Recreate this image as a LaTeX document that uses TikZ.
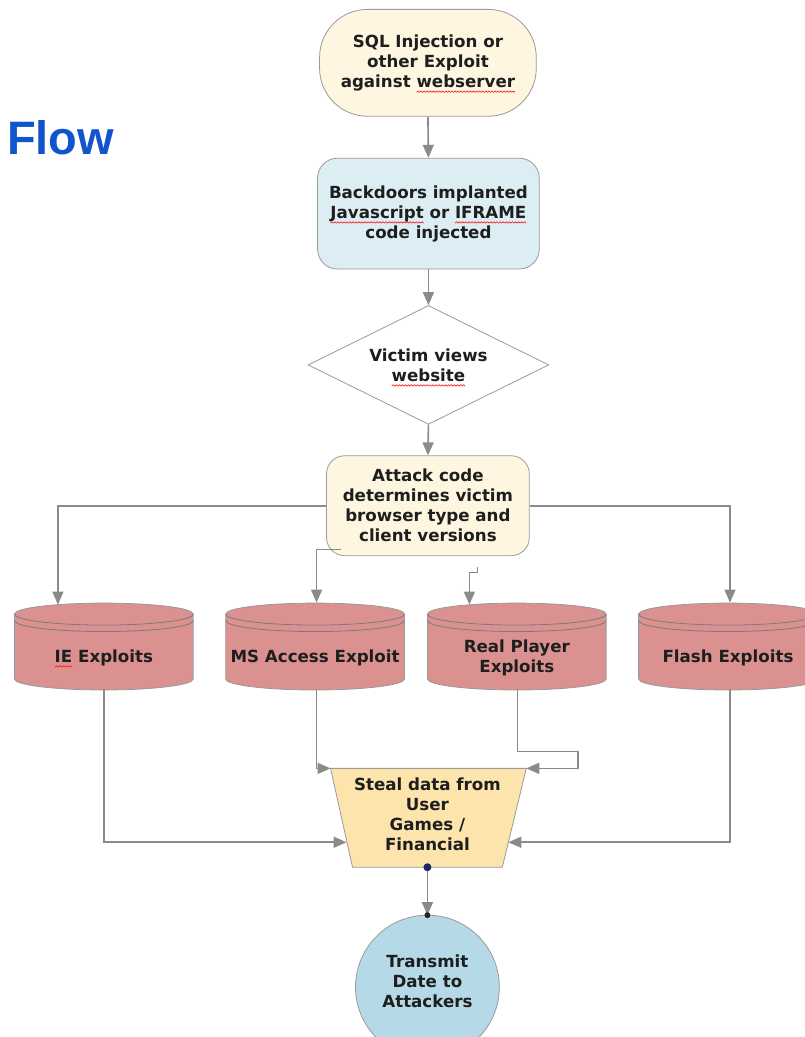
\documentclass[tikz,border=0pt]{standalone}
\usepackage{fontspec}
\setmainfont{DejaVu Sans}
\newfontfamily\flowfont{Liberation Sans}
\usetikzlibrary{shapes.geometric,arrows.meta}
\definecolor{txtc}{HTML}{1E1E1E}
\definecolor{bordc}{HTML}{9A9A9A}
\definecolor{linec}{HTML}{8A8A8A}
\definecolor{creamc}{HTML}{FEF6E0}
\definecolor{bluebox}{HTML}{DCEEF3}
\definecolor{cylc}{HTML}{DA9190}
\definecolor{trapc}{HTML}{FCE4AC}
\definecolor{circc}{HTML}{B5D9E6}
\definecolor{flowc}{HTML}{1155CC}
\definecolor{dotc}{HTML}{1A2A5A}
\newsavebox\waveunit
\newcommand\sqw[1]{\leavevmode\setbox0\hbox{#1}\rlap{\raisebox{-5pt}[0pt][0pt]{\hbox to \wd0{\xleaders\copy\waveunit\hfill}}}\box0\relax}
\begin{document}
\begin{tikzpicture}[x=1pt,y=1pt,
  lbl/.style={font=\bfseries\fontsize{16.7}{20}\selectfont, text=txtc, align=center, inner sep=0pt},
  termbox/.style={lbl, draw=bordc, line width=0.8pt, fill=creamc, rounded corners=48pt, minimum width=217pt, minimum height=107pt},
  procbox/.style={lbl, draw=bordc, line width=0.8pt, rounded corners=20pt},
  decbox/.style={lbl, diamond, aspect=2, draw=bordc, line width=0.8pt, fill=white, minimum width=241pt, minimum height=119pt},
  endcirc/.style={circle, draw=bordc, line width=0.8pt, fill=circc, minimum size=144pt, inner sep=0pt},
  conn/.style={draw=linec, line width=1.6pt, -{Triangle[length=13pt,width=11pt]}},
  cyl/.pic={
    \fill[cylc] (-89.5,32) arc[start angle=180,end angle=0,x radius=89.5,y radius=11] -- (89.5,-33) arc[start angle=0,end angle=-180,x radius=89.5,y radius=11] -- cycle;
    \draw[bordc,line width=0.8pt] (-89.5,32) arc[start angle=180,end angle=0,x radius=89.5,y radius=11] -- (89.5,-33) arc[start angle=0,end angle=-180,x radius=89.5,y radius=11] -- cycle;
    \draw[bordc!80!black,line width=0.8pt] (-89.5,32) arc[start angle=180,end angle=360,x radius=89.5,y radius=11];
    \draw[bordc!80!black,line width=0.8pt] (-89.5,25.5) arc[start angle=180,end angle=360,x radius=89.5,y radius=11];
  }]
\global\sbox\waveunit{\tikz{\useasboundingbox (0pt,0pt) rectangle (3pt,1.4pt); \draw[red,line width=0.55pt] (0pt,0pt)--(1.5pt,1.4pt)--(3pt,0pt);}}
\useasboundingbox (0,0) rectangle (806,-1037);
\clip (0,0) rectangle (806,-1037);

% title
\node[anchor=base west, inner sep=0pt, text=flowc, font=\flowfont\bfseries\fontsize{47}{50}\selectfont] (title) at (7,-153) {Flow};

% main column
\node[termbox] (start) at (428.5,-61.5) {SQL Injection or\\other Exploit\\against \sqw{webserver}};
\node[procbox, fill=bluebox, minimum width=222pt, minimum height=111pt] (back) at (429,-212.5) {Backdoors implanted\\\sqw{Javascript} or \sqw{IFRAME}\\code injected};
\node[decbox] (dia) at (429,-364) {Victim views\\\sqw{website}};
\node[procbox, fill=creamc, rounded corners=18pt, minimum width=203pt, minimum height=100pt] (attack) at (428.5,-505) {Attack code\\determines victim\\browser type and\\client versions};

% cylinders
\pic at (104,-645.5) {cyl};
\pic at (315.5,-645.5) {cyl};
\pic at (517.5,-645.5) {cyl};
\pic at (729,-645.5) {cyl};
\node[lbl] (ie) at (104,-657) {\sqw{IE} Exploits};
\node[lbl] (ms) at (315.5,-657) {MS Access Exploit};
\node[lbl] (rp) at (517.5,-657) {Real Player\\Exploits};
\node[lbl] (fl) at (729,-657) {Flash Exploits};

% trapezoid
\coordinate (trTL) at (331,-768);
\coordinate (trTR) at (527,-768);
\coordinate (trBR) at (503,-867);
\coordinate (trBL) at (353,-867);
\filldraw[fill=trapc, draw=bordc, line width=0.8pt] (trTL) -- (trTR) -- (trBR) -- (trBL) -- cycle;
\node[lbl] (steal) at (428,-814) {Steal data from\\User\\Games /\\Financial};
\coordinate (trL) at (347,-842);
\coordinate (trR) at (509,-842);
\coordinate (trB) at (428,-867);

% end circle
\node[endcirc] (tx) at (428,-987) {};
\node[lbl] (txt) at (428,-981) {Transmit\\Date to\\Attackers};

% connector coordinates
\coordinate (ieT) at (58,-604);
\coordinate (msT) at (317,-602);
\coordinate (rpT) at (470,-604);
\coordinate (flT) at (731,-602);
\coordinate (msS) at (341,-549);
\coordinate (msK) at (317,-549);
\coordinate (rpS) at (478,-566);
\coordinate (rpK1) at (478,-572);
\coordinate (rpK2) at (470,-572);
\coordinate (ieB) at (104,-689);
\coordinate (msB) at (317,-689);
\coordinate (rpB) at (518,-689);
\coordinate (flB) at (731,-689);
\coordinate (rpJ1) at (518,-751);
\coordinate (rpJ2) at (579,-751);
\coordinate (rpJ3) at (579,-768);
\coordinate (txT) at (428,-915);

% connectors
\draw[conn] (start.south) -- (back.north);
\draw[conn] (back.south) -- (dia.north);
\draw[conn] (dia.south) -- (attack.north);
\draw[conn] (attack.west) -| (ieT);
\draw[conn] (attack.east) -| (flT);
\draw[conn] (msS) -- (msK) -- (msT);
\draw[conn] (rpS) -- (rpK1) -- (rpK2) -- (rpT);
\draw[conn] (ieB) |- (trL);
\draw[conn] (flB) |- (trR);
\draw[conn] (msB) |- (trTL);
\draw[conn] (rpB) -- (rpJ1) -- (rpJ2) -- (rpJ3) -- (trTR);
\draw[conn] (trB) -- (txT);
\fill[dotc] (trB) circle (4);
\fill[black!85] (txT) circle (3);
\end{tikzpicture}
\end{document}
